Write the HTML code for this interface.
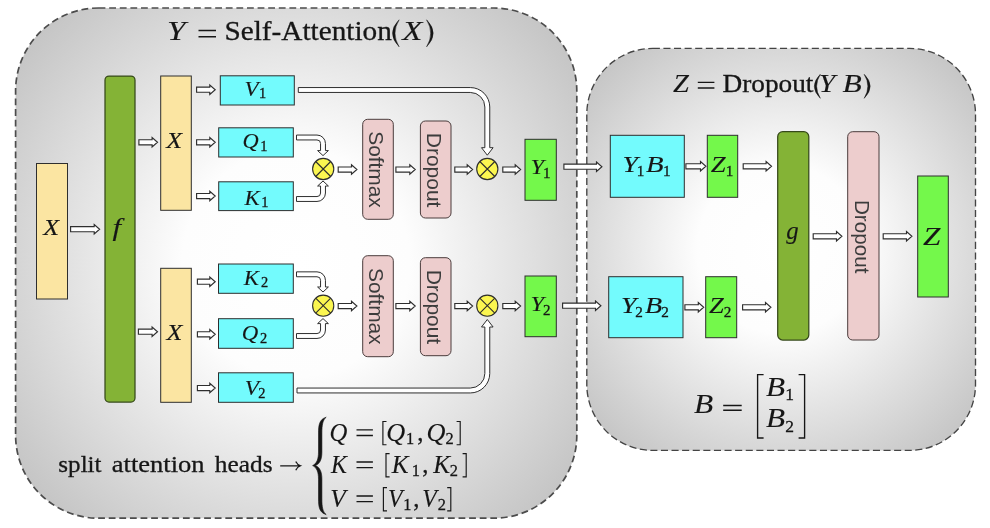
<!DOCTYPE html>
<html><head><meta charset="utf-8"><title>Model parallel transformer</title>
<style>
html,body{margin:0;padding:0;background:#fff;}
body{width:990px;height:528px;overflow:hidden;font-family:"Liberation Serif",serif;}
svg{display:block;font-family:"Liberation Serif",serif;}
</style></head><body>
<svg width="990" height="528" viewBox="0 0 990 528">
<defs>
<radialGradient id="gL" gradientUnits="userSpaceOnUse" cx="296.2" cy="263" r="379">
<stop offset="0" stop-color="#ffffff"/><stop offset="0.3" stop-color="#fdfdfd"/><stop offset="1" stop-color="#bdbdbd"/>
</radialGradient>
<radialGradient id="gR" gradientUnits="userSpaceOnUse" cx="781.2" cy="249.4" r="280">
<stop offset="0" stop-color="#ffffff"/><stop offset="0.3" stop-color="#fdfdfd"/><stop offset="1" stop-color="#bdbdbd"/>
</radialGradient>
</defs>
<rect x="15.6" y="8" width="561.2" height="510.2" rx="83" ry="83" fill="url(#gL)" stroke="#4c4c4c" stroke-width="1.7" stroke-dasharray="6.8 3.8"/>
<rect x="586.8" y="48.4" width="388.7" height="402.0" rx="66" ry="66" fill="url(#gR)" stroke="#444444" stroke-width="1.35" stroke-dasharray="7.1 3.5"/>
<rect x="36.5" y="163.5" width="31.00" height="135.50" rx="0" ry="0" fill="#fbe5a2" stroke="#2e2e2e" stroke-width="1.0"/>
<rect x="105" y="76" width="30.00" height="326.00" rx="4" ry="4" fill="#84b336" stroke="#36491a" stroke-width="1.25"/>
<rect x="160.7" y="76" width="30.60" height="134.30" rx="0" ry="0" fill="#fbe5a2" stroke="#2e2e2e" stroke-width="1.0"/>
<rect x="160.7" y="268.3" width="30.60" height="134.00" rx="0" ry="0" fill="#fbe5a2" stroke="#2e2e2e" stroke-width="1.0"/>
<rect x="220.3" y="75.8" width="74.00" height="29.20" rx="0" ry="0" fill="#73fbfd" stroke="#2e2e2e" stroke-width="1.0"/>
<rect x="218.7" y="127.8" width="74.60" height="29.20" rx="0" ry="0" fill="#73fbfd" stroke="#2e2e2e" stroke-width="1.0"/>
<rect x="218.7" y="181.8" width="74.60" height="28.80" rx="0" ry="0" fill="#73fbfd" stroke="#2e2e2e" stroke-width="1.0"/>
<rect x="218.5" y="264" width="74.80" height="29.30" rx="0" ry="0" fill="#73fbfd" stroke="#2e2e2e" stroke-width="1.0"/>
<rect x="218.5" y="318.7" width="74.80" height="29.60" rx="0" ry="0" fill="#73fbfd" stroke="#2e2e2e" stroke-width="1.0"/>
<rect x="218.5" y="372.8" width="74.80" height="29.50" rx="0" ry="0" fill="#73fbfd" stroke="#2e2e2e" stroke-width="1.0"/>
<rect x="362.7" y="119.3" width="30.60" height="100.00" rx="5" ry="5" fill="#edcdcd" stroke="#4a3c3c" stroke-width="1.0"/>
<rect x="420.4" y="121" width="30.60" height="97.00" rx="5" ry="5" fill="#edcdcd" stroke="#4a3c3c" stroke-width="1.0"/>
<rect x="362.7" y="255.7" width="30.60" height="101.00" rx="5" ry="5" fill="#edcdcd" stroke="#4a3c3c" stroke-width="1.0"/>
<rect x="420.4" y="257.7" width="30.60" height="98.00" rx="5" ry="5" fill="#edcdcd" stroke="#4a3c3c" stroke-width="1.0"/>
<rect x="525" y="139.3" width="31.30" height="61.00" rx="0" ry="0" fill="#74f84b" stroke="#2e2e2e" stroke-width="1.0"/>
<rect x="525" y="276" width="31.30" height="60.70" rx="0" ry="0" fill="#74f84b" stroke="#2e2e2e" stroke-width="1.0"/>
<rect x="610.3" y="135.3" width="74.00" height="62.00" rx="0" ry="0" fill="#73fbfd" stroke="#2e2e2e" stroke-width="1.0"/>
<rect x="707.3" y="135.3" width="30.40" height="62.00" rx="0" ry="0" fill="#74f84b" stroke="#2e2e2e" stroke-width="1.0"/>
<rect x="608.7" y="276.7" width="74.30" height="61.00" rx="0" ry="0" fill="#73fbfd" stroke="#2e2e2e" stroke-width="1.0"/>
<rect x="705.7" y="276.7" width="31.00" height="61.00" rx="0" ry="0" fill="#74f84b" stroke="#2e2e2e" stroke-width="1.0"/>
<rect x="777.7" y="131.7" width="31.10" height="208.30" rx="5" ry="5" fill="#84b336" stroke="#36491a" stroke-width="1.25"/>
<rect x="847.7" y="131.7" width="31.30" height="208.30" rx="5" ry="5" fill="#edcdcd" stroke="#4a3c3c" stroke-width="1.0"/>
<rect x="917.7" y="176" width="30.60" height="121.00" rx="0" ry="0" fill="#74f84b" stroke="#2e2e2e" stroke-width="1.0"/>
<circle cx="323.2" cy="169" r="10.6" fill="#fbf650" stroke="#2e2e2e" stroke-width="1.1"/><path d="M315.70,161.50 L330.70,176.50 M330.70,161.50 L315.70,176.50" stroke="#2e2e2e" stroke-width="1.1" fill="none"/>
<circle cx="487.3" cy="169" r="10.6" fill="#fbf650" stroke="#2e2e2e" stroke-width="1.1"/><path d="M479.80,161.50 L494.80,176.50 M494.80,161.50 L479.80,176.50" stroke="#2e2e2e" stroke-width="1.1" fill="none"/>
<circle cx="323.2" cy="305.7" r="10.6" fill="#fbf650" stroke="#2e2e2e" stroke-width="1.1"/><path d="M315.70,298.20 L330.70,313.20 M330.70,298.20 L315.70,313.20" stroke="#2e2e2e" stroke-width="1.1" fill="none"/>
<circle cx="487.3" cy="305.7" r="10.6" fill="#fbf650" stroke="#2e2e2e" stroke-width="1.1"/><path d="M479.80,298.20 L494.80,313.20 M494.80,298.20 L479.80,313.20" stroke="#2e2e2e" stroke-width="1.1" fill="none"/>
<path d="M70.60,226.65 L94.20,226.65 L94.20,224.50 L99.60,229.20 L94.20,233.90 L94.20,231.75 L70.60,231.75 Z" fill="#fff" stroke="#2e2e2e" stroke-width="1.15" stroke-linejoin="miter"/>
<path d="M138.90,139.75 L152.10,139.75 L152.10,137.60 L157.50,142.30 L152.10,147.00 L152.10,144.85 L138.90,144.85 Z" fill="#fff" stroke="#2e2e2e" stroke-width="1.15" stroke-linejoin="miter"/>
<path d="M138.40,329.15 L152.10,329.15 L152.10,327.00 L157.50,331.70 L152.10,336.40 L152.10,334.25 L138.40,334.25 Z" fill="#fff" stroke="#2e2e2e" stroke-width="1.15" stroke-linejoin="miter"/>
<path d="M196.60,87.15 L209.80,87.15 L209.80,85.00 L215.20,89.70 L209.80,94.40 L209.80,92.25 L196.60,92.25 Z" fill="#fff" stroke="#2e2e2e" stroke-width="1.15" stroke-linejoin="miter"/>
<path d="M196.60,139.75 L209.80,139.75 L209.80,137.60 L215.20,142.30 L209.80,147.00 L209.80,144.85 L196.60,144.85 Z" fill="#fff" stroke="#2e2e2e" stroke-width="1.15" stroke-linejoin="miter"/>
<path d="M196.60,193.45 L209.80,193.45 L209.80,191.30 L215.20,196.00 L209.80,200.70 L209.80,198.55 L196.60,198.55 Z" fill="#fff" stroke="#2e2e2e" stroke-width="1.15" stroke-linejoin="miter"/>
<path d="M197.40,279.15 L209.80,279.15 L209.80,277.00 L215.20,281.70 L209.80,286.40 L209.80,284.25 L197.40,284.25 Z" fill="#fff" stroke="#2e2e2e" stroke-width="1.15" stroke-linejoin="miter"/>
<path d="M197.40,331.75 L209.80,331.75 L209.80,329.60 L215.20,334.30 L209.80,339.00 L209.80,336.85 L197.40,336.85 Z" fill="#fff" stroke="#2e2e2e" stroke-width="1.15" stroke-linejoin="miter"/>
<path d="M197.40,385.45 L209.80,385.45 L209.80,383.30 L215.20,388.00 L209.80,392.70 L209.80,390.55 L197.40,390.55 Z" fill="#fff" stroke="#2e2e2e" stroke-width="1.15" stroke-linejoin="miter"/>
<path d="M338.20,166.95 L351.50,166.95 L351.50,164.80 L356.90,169.50 L351.50,174.20 L351.50,172.05 L338.20,172.05 Z" fill="#fff" stroke="#2e2e2e" stroke-width="1.15" stroke-linejoin="miter"/>
<path d="M395.90,166.95 L409.80,166.95 L409.80,164.80 L415.20,169.50 L409.80,174.20 L409.80,172.05 L395.90,172.05 Z" fill="#fff" stroke="#2e2e2e" stroke-width="1.15" stroke-linejoin="miter"/>
<path d="M454.80,166.95 L467.20,166.95 L467.20,164.80 L472.60,169.50 L467.20,174.20 L467.20,172.05 L454.80,172.05 Z" fill="#fff" stroke="#2e2e2e" stroke-width="1.15" stroke-linejoin="miter"/>
<path d="M502.80,166.95 L515.20,166.95 L515.20,164.80 L520.60,169.50 L515.20,174.20 L515.20,172.05 L502.80,172.05 Z" fill="#fff" stroke="#2e2e2e" stroke-width="1.15" stroke-linejoin="miter"/>
<path d="M338.20,303.45 L351.50,303.45 L351.50,301.30 L356.90,306.00 L351.50,310.70 L351.50,308.55 L338.20,308.55 Z" fill="#fff" stroke="#2e2e2e" stroke-width="1.15" stroke-linejoin="miter"/>
<path d="M395.90,303.45 L409.80,303.45 L409.80,301.30 L415.20,306.00 L409.80,310.70 L409.80,308.55 L395.90,308.55 Z" fill="#fff" stroke="#2e2e2e" stroke-width="1.15" stroke-linejoin="miter"/>
<path d="M454.80,303.45 L467.20,303.45 L467.20,301.30 L472.60,306.00 L467.20,310.70 L467.20,308.55 L454.80,308.55 Z" fill="#fff" stroke="#2e2e2e" stroke-width="1.15" stroke-linejoin="miter"/>
<path d="M502.80,303.45 L515.20,303.45 L515.20,301.30 L520.60,306.00 L515.20,310.70 L515.20,308.55 L502.80,308.55 Z" fill="#fff" stroke="#2e2e2e" stroke-width="1.15" stroke-linejoin="miter"/>
<path d="M563.90,164.15 L596.50,164.15 L596.50,162.00 L601.90,166.70 L596.50,171.40 L596.50,169.25 L563.90,169.25 Z" fill="#fff" stroke="#2e2e2e" stroke-width="1.15" stroke-linejoin="miter"/>
<path d="M562.60,303.15 L595.50,303.15 L595.50,301.00 L600.90,305.70 L595.50,310.40 L595.50,308.25 L562.60,308.25 Z" fill="#fff" stroke="#2e2e2e" stroke-width="1.15" stroke-linejoin="miter"/>
<path d="M685.90,163.75 L700.50,163.75 L700.50,161.60 L705.90,166.30 L700.50,171.00 L700.50,168.85 L685.90,168.85 Z" fill="#fff" stroke="#2e2e2e" stroke-width="1.15" stroke-linejoin="miter"/>
<path d="M743.20,163.75 L766.10,163.75 L766.10,161.60 L771.50,166.30 L766.10,171.00 L766.10,168.85 L743.20,168.85 Z" fill="#fff" stroke="#2e2e2e" stroke-width="1.15" stroke-linejoin="miter"/>
<path d="M684.90,304.75 L698.30,304.75 L698.30,302.60 L703.70,307.30 L698.30,312.00 L698.30,309.85 L684.90,309.85 Z" fill="#fff" stroke="#2e2e2e" stroke-width="1.15" stroke-linejoin="miter"/>
<path d="M742.60,304.75 L765.50,304.75 L765.50,302.60 L770.90,307.30 L765.50,312.00 L765.50,309.85 L742.60,309.85 Z" fill="#fff" stroke="#2e2e2e" stroke-width="1.15" stroke-linejoin="miter"/>
<path d="M813.20,233.75 L836.50,233.75 L836.50,231.60 L841.90,236.30 L836.50,241.00 L836.50,238.85 L813.20,238.85 Z" fill="#fff" stroke="#2e2e2e" stroke-width="1.15" stroke-linejoin="miter"/>
<path d="M883.20,233.75 L906.50,233.75 L906.50,231.60 L911.90,236.30 L906.50,241.00 L906.50,238.85 L883.20,238.85 Z" fill="#fff" stroke="#2e2e2e" stroke-width="1.15" stroke-linejoin="miter"/>
<path d="M296.50,135.05 H317.00 A8.45,8.45 0 0 1 325.45,143.50 V150.60 H328.40 L323.00,155.60 L317.60,150.60 H320.55 V143.50 A3.55,3.55 0 0 0 317.00,139.95 H296.50 Z" fill="#fff" stroke="#2e2e2e" stroke-width="1.0" stroke-linejoin="miter"/>
<path d="M296.50,201.45 H317.00 A8.45,8.45 0 0 0 325.45,193.00 V186.00 H328.40 L323.00,181.00 L317.60,186.00 H320.55 V193.00 A3.55,3.55 0 0 1 317.00,196.55 H296.50 Z" fill="#fff" stroke="#2e2e2e" stroke-width="1.0" stroke-linejoin="miter"/>
<path d="M296.50,271.85 H317.00 A8.45,8.45 0 0 1 325.45,280.30 V287.00 H328.40 L323.00,292.00 L317.60,287.00 H320.55 V280.30 A3.55,3.55 0 0 0 317.00,276.75 H296.50 Z" fill="#fff" stroke="#2e2e2e" stroke-width="1.0" stroke-linejoin="miter"/>
<path d="M296.50,338.45 H317.00 A8.45,8.45 0 0 0 325.45,330.00 V323.60 H328.40 L323.00,318.60 L317.60,323.60 H320.55 V330.00 A3.55,3.55 0 0 1 317.00,333.55 H296.50 Z" fill="#fff" stroke="#2e2e2e" stroke-width="1.0" stroke-linejoin="miter"/>
<path d="M298.30,87.55 H470.30 A19.45,19.45 0 0 1 489.75,107.00 V147.70 H493.10 L487.30,155.20 L481.50,147.70 H484.85 V107.00 A14.55,14.55 0 0 0 470.30,92.45 H298.30 Z" fill="#fff" stroke="#2e2e2e" stroke-width="1.0" stroke-linejoin="miter"/>
<path d="M297.00,392.95 H470.30 A19.45,19.45 0 0 0 489.75,373.50 V327.00 H493.10 L487.30,319.50 L481.50,327.00 H484.85 V373.50 A14.55,14.55 0 0 1 470.30,388.05 H297.00 Z" fill="#fff" stroke="#2e2e2e" stroke-width="1.0" stroke-linejoin="miter"/>
<g style="will-change:transform" stroke="#161616" stroke-width="0.3">
<text x="166.90" y="39.7" font-size="27.4" font-style="italic" stroke-width="0.12" textLength="18.54" lengthAdjust="spacingAndGlyphs" fill="#161616">Y</text>
<path d="M198.5,30.6 H216 M198.5,36.7 H216" stroke="#161616" stroke-width="1.5" fill="none"/>
<text x="224.44" y="39.7" font-size="27.4" textLength="167.40" lengthAdjust="spacingAndGlyphs" fill="#161616">Self-Attention</text>
<path d="M399.10,19.8 Q385.90,33.30 399.10,46.8 Q390.90,33.30 399.10,19.8 Z" fill="#161616" stroke="#161616" stroke-width="0.5" stroke-linejoin="round"/>
<text x="402.39" y="39.7" font-size="27.4" font-style="italic" stroke-width="0.12" textLength="20.14" lengthAdjust="spacingAndGlyphs" fill="#161616">X</text>
<path d="M426.60,19.8 Q439.80,33.30 426.60,46.8 Q434.80,33.30 426.60,19.8 Z" fill="#161616" stroke="#161616" stroke-width="0.5" stroke-linejoin="round"/>
<text x="672.95" y="92.3" font-size="24.7" font-style="italic" stroke-width="0.12" textLength="15.91" lengthAdjust="spacingAndGlyphs" fill="#161616">Z</text>
<path d="M697.8,82.4 H714.4 M697.8,88.0 H714.4" stroke="#161616" stroke-width="1.4" fill="none"/>
<text x="722.51" y="92.3" font-size="24.7" textLength="90.95" lengthAdjust="spacingAndGlyphs" fill="#161616">Dropout</text>
<path d="M820.30,74.3 Q808.30,86.30 820.30,98.3 Q812.90,86.30 820.30,74.3 Z" fill="#161616" stroke="#161616" stroke-width="0.5" stroke-linejoin="round"/>
<text x="818.71" y="92.3" font-size="24.7" font-style="italic" stroke-width="0.12" textLength="16.46" lengthAdjust="spacingAndGlyphs" fill="#161616">Y</text>
<text x="842.41" y="92.3" font-size="24.7" font-style="italic" stroke-width="0.12" textLength="19.29" lengthAdjust="spacingAndGlyphs" fill="#161616">B</text>
<path d="M864.20,74.3 Q876.20,86.30 864.20,98.3 Q871.60,86.30 864.20,74.3 Z" fill="#161616" stroke="#161616" stroke-width="0.5" stroke-linejoin="round"/>
<text x="43.16" y="234.5" font-size="22.1" font-style="italic" stroke-width="0.12" textLength="15.90" lengthAdjust="spacingAndGlyphs" fill="#161616">X</text>
<text x="112.45" y="235.7" font-size="25.2" font-style="italic" stroke-width="0.12" textLength="8.59" lengthAdjust="spacingAndGlyphs" fill="#161616">f</text>
<text x="166.26" y="147.7" font-size="22.1" font-style="italic" stroke-width="0.12" textLength="15.90" lengthAdjust="spacingAndGlyphs" fill="#161616">X</text>
<text x="166.46" y="339.6" font-size="22.1" font-style="italic" stroke-width="0.12" textLength="15.90" lengthAdjust="spacingAndGlyphs" fill="#161616">X</text>
<text x="244.50" y="96.1" font-size="21.2" font-style="italic" stroke-width="0.12" textLength="14.09" lengthAdjust="spacingAndGlyphs" fill="#161616">V</text><text x="258.93" y="98.3" font-size="14.4" fill="#161616">1</text>
<text x="242.47" y="148.3" font-size="21.2" font-style="italic" stroke-width="0.12" textLength="16.15" lengthAdjust="spacingAndGlyphs" fill="#161616">Q</text><text x="260.13" y="150.9" font-size="14.4" fill="#161616">1</text>
<text x="244.57" y="204.6" font-size="21.2" font-style="italic" stroke-width="0.12" textLength="15.25" lengthAdjust="spacingAndGlyphs" fill="#161616">K</text><text x="261.33" y="207.4" font-size="14.4" fill="#161616">1</text>
<text x="243.87" y="285.0" font-size="21.2" font-style="italic" stroke-width="0.12" textLength="15.25" lengthAdjust="spacingAndGlyphs" fill="#161616">K</text><text x="260.97" y="287.4" font-size="14.4" fill="#161616">2</text>
<text x="241.74" y="340.4" font-size="21.2" font-style="italic" stroke-width="0.12" textLength="16.48" lengthAdjust="spacingAndGlyphs" fill="#161616">Q</text><text x="260.07" y="342.79999999999995" font-size="14.4" fill="#161616">2</text>
<text x="244.68" y="395.3" font-size="21.2" font-style="italic" stroke-width="0.12" textLength="14.27" lengthAdjust="spacingAndGlyphs" fill="#161616">V</text><text x="258.17" y="398.0" font-size="14.4" fill="#161616">2</text>
<text x="530.40" y="174.2" font-size="21.2" font-style="italic" stroke-width="0.12" textLength="13.62" lengthAdjust="spacingAndGlyphs" fill="#161616">Y</text><text x="543.08" y="177.7" font-size="15.0" fill="#161616">1</text>
<text x="530.40" y="311.0" font-size="21.2" font-style="italic" stroke-width="0.12" textLength="13.62" lengthAdjust="spacingAndGlyphs" fill="#161616">Y</text><text x="542.94" y="314.5" font-size="15.0" fill="#161616">2</text>
<text x="622.52" y="171.7" font-size="22.6" font-style="italic" stroke-width="0.12" textLength="15.42" lengthAdjust="spacingAndGlyphs" fill="#161616">Y</text><text x="636.66" y="175.5" font-size="15.2" fill="#161616">1</text><text x="646.03" y="171.7" font-size="22.6" font-style="italic" stroke-width="0.12" textLength="17.60" lengthAdjust="spacingAndGlyphs" fill="#161616">B</text><text x="662.96" y="175.5" font-size="15.2" fill="#161616">1</text>
<text x="621.12" y="312.7" font-size="22.6" font-style="italic" stroke-width="0.12" textLength="15.42" lengthAdjust="spacingAndGlyphs" fill="#161616">Y</text><text x="635.13" y="316.5" font-size="15.2" fill="#161616">2</text><text x="645.04" y="312.7" font-size="22.6" font-style="italic" stroke-width="0.12" textLength="17.18" lengthAdjust="spacingAndGlyphs" fill="#161616">B</text><text x="661.23" y="316.5" font-size="15.2" fill="#161616">2</text>
<text x="710.77" y="171.7" font-size="22.6" font-style="italic" stroke-width="0.12" textLength="14.90" lengthAdjust="spacingAndGlyphs" fill="#161616">Z</text><text x="725.86" y="175.5" font-size="15.2" fill="#161616">1</text>
<text x="709.08" y="312.7" font-size="22.6" font-style="italic" stroke-width="0.12" textLength="14.80" lengthAdjust="spacingAndGlyphs" fill="#161616">Z</text><text x="723.83" y="316.5" font-size="15.2" fill="#161616">2</text>
<text x="786.29" y="239.3" font-size="24.8" font-style="italic" stroke-width="0.12" fill="#161616">g</text>
<text x="923.12" y="244.5" font-size="25.8" font-style="italic" stroke-width="0.12" textLength="17.42" lengthAdjust="spacingAndGlyphs" fill="#161616">Z</text>
<text x="58.37" y="472" font-size="24" textLength="43.17" lengthAdjust="spacingAndGlyphs" fill="#161616">split</text>
<text x="111.77" y="472" font-size="24" textLength="92.73" lengthAdjust="spacingAndGlyphs" fill="#161616">attention</text>
<text x="214.75" y="472" font-size="24" textLength="57.76" lengthAdjust="spacingAndGlyphs" fill="#161616">heads</text>
<path d="M280.2,465.8 H299.8 M295.8,461.4 Q297.2,464.6 300.6,465.8 Q297.2,467 295.8,470.2" stroke="#161616" stroke-width="1.15" fill="none"/>
<path d="M326.2,417.2 C319.0,419.2 318.5,426 318.5,433 L318.5,452 C318.5,459 316.8,463.6 312.6,465.6 C316.8,467.6 318.5,472.2 318.5,479.2 L318.5,499 C318.5,506 319.0,512.6 326.2,514.6 C322.8,512 321.9,507 321.9,499 L321.9,479.2 C321.9,471.6 319.8,467.4 315.4,465.6 C319.8,463.8 321.9,459.6 321.9,452 L321.9,433 C321.9,425 322.8,419.8 326.2,417.2 Z" fill="#161616" stroke="#161616" stroke-width="0.6"/>
<text x="329.44" y="440.5" font-size="24.7" font-style="italic" stroke-width="0.12" textLength="17.82" lengthAdjust="spacingAndGlyphs" fill="#161616">Q</text><path d="M356.5,429.9 H372.9 M356.5,435.5 H372.9" stroke="#161616" stroke-width="1.4" fill="none"/><path d="M386.5,421.5 H382.9 V444.7 H386.5" stroke="#161616" stroke-width="1.15" fill="none"/><text x="386.35" y="440.5" font-size="24.7" font-style="italic" stroke-width="0.12" textLength="18.93" lengthAdjust="spacingAndGlyphs" fill="#161616">Q</text><text x="405.96" y="443.5" font-size="16.4" fill="#161616">1</text><text x="417.26" y="440.5" font-size="24.7" fill="#161616">,</text><text x="426.45" y="440.5" font-size="24.7" font-style="italic" stroke-width="0.12" textLength="18.93" lengthAdjust="spacingAndGlyphs" fill="#161616">Q</text><text x="445.48" y="443.5" font-size="16.4" fill="#161616">2</text><path d="M456.59999999999997,421.5 H460.2 V444.7 H456.59999999999997" stroke="#161616" stroke-width="1.15" fill="none"/>
<text x="331.08" y="472.6" font-size="24.7" font-style="italic" stroke-width="0.12" textLength="15.90" lengthAdjust="spacingAndGlyphs" fill="#161616">K</text><path d="M356.5,462.0 H372.9 M356.5,467.6 H372.9" stroke="#161616" stroke-width="1.4" fill="none"/><path d="M389.6,453.6 H386.0 V476.8 H389.6" stroke="#161616" stroke-width="1.15" fill="none"/><text x="391.70" y="472.6" font-size="24.7" font-style="italic" stroke-width="0.12" textLength="16.82" lengthAdjust="spacingAndGlyphs" fill="#161616">K</text><text x="411.76" y="475.6" font-size="16.4" fill="#161616">1</text><text x="422.26" y="472.6" font-size="24.7" fill="#161616">,</text><text x="433.30" y="472.6" font-size="24.7" font-style="italic" stroke-width="0.12" textLength="16.82" lengthAdjust="spacingAndGlyphs" fill="#161616">K</text><text x="449.68" y="475.6" font-size="16.4" fill="#161616">2</text><path d="M462.59999999999997,453.6 H466.2 V476.8 H462.59999999999997" stroke="#161616" stroke-width="1.15" fill="none"/>
<text x="330.28" y="506.6" font-size="24.7" font-style="italic" stroke-width="0.12" textLength="15.49" lengthAdjust="spacingAndGlyphs" fill="#161616">V</text><path d="M356.5,496.0 H372.9 M356.5,501.6 H372.9" stroke="#161616" stroke-width="1.4" fill="none"/><path d="M387.0,487.6 H383.4 V510.8 H387.0" stroke="#161616" stroke-width="1.15" fill="none"/><text x="387.96" y="506.6" font-size="24.7" font-style="italic" stroke-width="0.12" textLength="14.55" lengthAdjust="spacingAndGlyphs" fill="#161616">V</text><text x="403.36" y="509.6" font-size="16.4" fill="#161616">1</text><text x="413.26" y="506.6" font-size="24.7" fill="#161616">,</text><text x="422.36" y="506.6" font-size="24.7" font-style="italic" stroke-width="0.12" textLength="14.55" lengthAdjust="spacingAndGlyphs" fill="#161616">V</text><text x="437.68" y="509.6" font-size="16.4" fill="#161616">2</text><path d="M447.2,487.6 H450.8 V510.8 H447.2" stroke="#161616" stroke-width="1.15" fill="none"/>
<text x="694.11" y="412.7" font-size="26.5" font-style="italic" stroke-width="0.12" textLength="19.18" lengthAdjust="spacingAndGlyphs" fill="#161616">B</text>
<path d="M723.2,405.4 H741.7 M723.2,410.3 H741.7" stroke="#161616" stroke-width="1.45" fill="none"/>
<path d="M763.6,374.6 H757.6 V438.0 H763.6" stroke="#161616" stroke-width="1.35" fill="none"/>
<path d="M798.6,374.6 H804.6 V438.0 H798.6" stroke="#161616" stroke-width="1.35" fill="none"/>
<text x="766.11" y="396.0" font-size="26.5" font-style="italic" stroke-width="0.12" textLength="19.08" lengthAdjust="spacingAndGlyphs" fill="#161616">B</text><text x="785.26" y="400.4" font-size="17.5" fill="#161616">1</text>
<text x="766.11" y="427.4" font-size="26.5" font-style="italic" stroke-width="0.12" textLength="19.08" lengthAdjust="spacingAndGlyphs" fill="#161616">B</text><text x="785.23" y="432.0" font-size="17.5" fill="#161616">2</text>
<text transform="translate(369.3,169.5) rotate(90)" font-family="'Liberation Sans', sans-serif" font-size="20.8" text-anchor="middle" fill="#3c3c3c" stroke="none" textLength="76.5" lengthAdjust="spacingAndGlyphs">Softmax</text>
<text transform="translate(427.4,170.1) rotate(90)" font-family="'Liberation Sans', sans-serif" font-size="20.8" text-anchor="middle" fill="#3c3c3c" stroke="none" textLength="74.5" lengthAdjust="spacingAndGlyphs">Dropout</text>
<text transform="translate(369.3,306.3) rotate(90)" font-family="'Liberation Sans', sans-serif" font-size="20.8" text-anchor="middle" fill="#3c3c3c" stroke="none" textLength="76.5" lengthAdjust="spacingAndGlyphs">Softmax</text>
<text transform="translate(427.4,306.9) rotate(90)" font-family="'Liberation Sans', sans-serif" font-size="20.8" text-anchor="middle" fill="#3c3c3c" stroke="none" textLength="74.5" lengthAdjust="spacingAndGlyphs">Dropout</text>
<text transform="translate(854.6,236.7) rotate(90)" font-family="'Liberation Sans', sans-serif" font-size="20.8" text-anchor="middle" fill="#3c3c3c" stroke="none" textLength="73.5" lengthAdjust="spacingAndGlyphs">Dropout</text>
</g>
</svg>
</body></html>
